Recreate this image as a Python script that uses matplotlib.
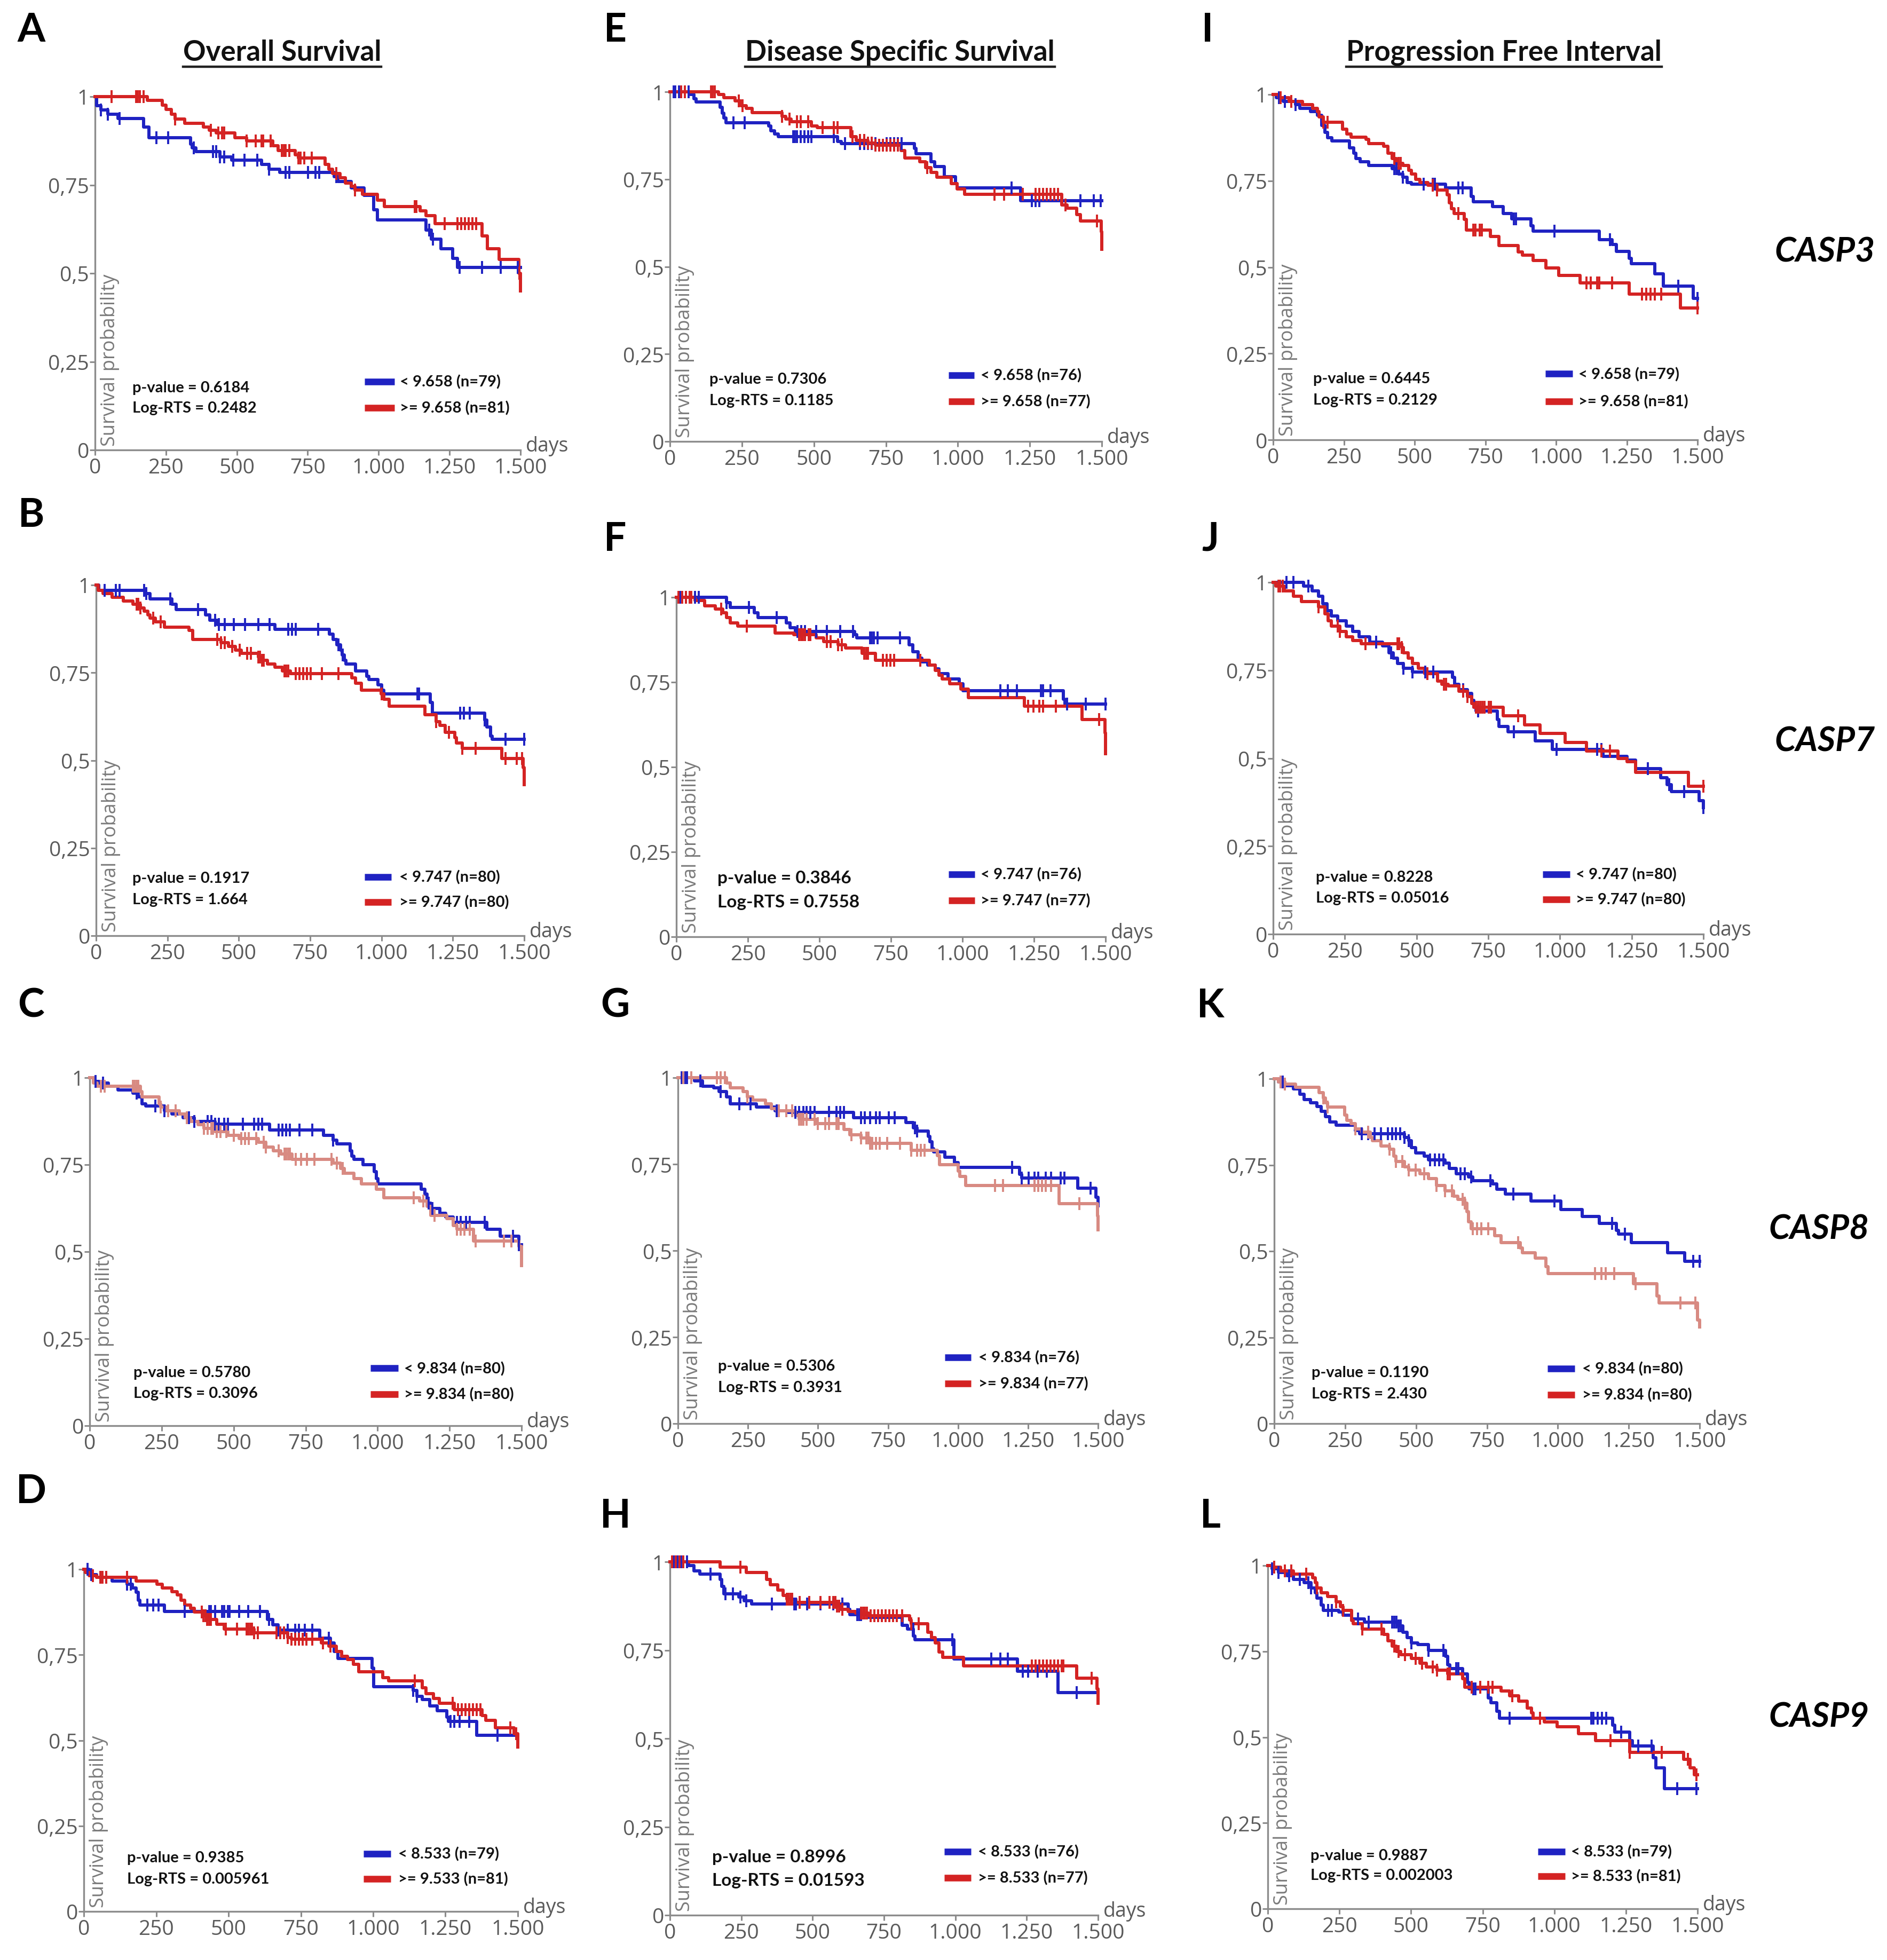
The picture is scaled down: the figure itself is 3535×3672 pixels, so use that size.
import numpy as np
import matplotlib
matplotlib.use("Agg")
import matplotlib.pyplot as plt
from matplotlib.lines import Line2D

# ------------------------------------------------------------------ data
XTICKS = [0, 250, 500, 750, 1000, 1250, 1500]
XTICK_LABELS = ["0", "250", "500", "750", "1.000", "1.250", "1.500"]
YTICKS = [0, 0.25, 0.5, 0.75, 1]
YTICK_LABELS = ["0", "0,25", "0,5", "0,75", "1"]

COL_TITLES = ["Overall Survival", "Disease Specific Survival", "Progression Free Interval"]
GENES = ["CASP3", "CASP7", "CASP8", "CASP9"]

# ---- A : CASP3 overall survival
A_blue_t = [0, 5, 20, 45, 80, 171, 191, 336, 343, 356, 441, 481, 587, 613, 652, 843, 857, 903, 949, 982, 995, 1166, 1186, 1219, 1261, 1278]
A_blue_s = [1.0, 0.975, 0.962, 0.95, 0.938, 0.914, 0.883, 0.866, 0.855, 0.844, 0.83, 0.82, 0.808, 0.795, 0.786, 0.773, 0.76, 0.742, 0.72, 0.68, 0.651, 0.623, 0.596, 0.57, 0.543, 0.517]
A_blue_c = [20, 46, 86, 217, 257, 349, 415, 428, 441, 455, 488, 527, 573, 613, 672, 686, 751, 778, 791, 850, 1179, 1192, 1285, 1364, 1430, 1490]
A_red_t = [0, 184, 237, 250, 270, 283, 316, 382, 402, 428, 494, 534, 626, 646, 705, 718, 811, 824, 837, 863, 883, 903, 916, 942, 995, 1021, 1147, 1166, 1199, 1364, 1384, 1424, 1495, 1500]
A_red_s = [1.0, 0.989, 0.976, 0.963, 0.95, 0.936, 0.925, 0.914, 0.905, 0.898, 0.883, 0.875, 0.861, 0.848, 0.835, 0.826, 0.808, 0.795, 0.782, 0.77, 0.755, 0.746, 0.736, 0.724, 0.707, 0.689, 0.676, 0.663, 0.64, 0.605, 0.57, 0.539, 0.5, 0.45]
A_red_c = [59, 145, 151, 158, 171, 283, 408, 435, 448, 455, 534, 567, 587, 593, 620, 659, 666, 672, 685, 718, 725, 738, 764, 850, 916, 1127, 1133, 1232, 1278, 1291, 1304, 1318, 1331, 1344, 1496]

# ---- E : CASP3 disease specific survival
E_blue_t = [0, 71, 84, 91, 175, 181, 188, 194, 343, 350, 363, 376, 583, 596, 849, 855, 907, 920, 953, 992, 998, 1218]
E_blue_s = [1.0, 0.992, 0.98, 0.971, 0.956, 0.939, 0.925, 0.912, 0.903, 0.889, 0.879, 0.872, 0.858, 0.852, 0.838, 0.823, 0.80, 0.787, 0.758, 0.738, 0.725, 0.689]
E_blue_c = [13, 19, 32, 39, 65, 220, 259, 428, 434, 441, 454, 467, 480, 492, 570, 609, 661, 674, 687, 700, 713, 752, 765, 778, 791, 804, 1186, 1257, 1270, 1283, 1426, 1472, 1497]
E_red_t = [0, 168, 188, 227, 246, 266, 285, 389, 402, 421, 492, 512, 628, 648, 687, 713, 803, 816, 868, 888, 907, 927, 978, 998, 1024, 1361, 1380, 1413, 1426, 1498, 1500]
E_red_s = [1.0, 0.992, 0.983, 0.974, 0.961, 0.952, 0.941, 0.93, 0.922, 0.914, 0.903, 0.897, 0.872, 0.861, 0.854, 0.847, 0.832, 0.81, 0.80, 0.783, 0.769, 0.756, 0.738, 0.722, 0.707, 0.676, 0.667, 0.649, 0.631, 0.6, 0.55]
E_red_c = [39, 52, 143, 149, 156, 240, 253, 389, 415, 441, 454, 480, 531, 570, 583, 635, 661, 674, 687, 700, 713, 726, 739, 752, 765, 778, 791, 894, 1128, 1160, 1225, 1270, 1283, 1296, 1309, 1322, 1335, 1348, 1374, 1484]

# ---- I : CASP3 progression free interval
I_blue_t = [0, 12, 35, 80, 95, 133, 156, 171, 183, 193, 208, 269, 284, 292, 307, 337, 420, 443, 458, 473, 488, 609, 700, 707, 775, 813, 843, 911, 918, 1153, 1198, 1213, 1258, 1266, 1349, 1379, 1485]
I_blue_s = [1.0, 0.99, 0.98, 0.97, 0.96, 0.95, 0.94, 0.91, 0.89, 0.875, 0.865, 0.845, 0.83, 0.815, 0.805, 0.795, 0.785, 0.77, 0.76, 0.745, 0.74, 0.73, 0.705, 0.69, 0.675, 0.655, 0.64, 0.62, 0.605, 0.58, 0.565, 0.545, 0.525, 0.51, 0.48, 0.445, 0.41]
I_blue_c = [20, 42, 80, 428, 435, 458, 533, 564, 571, 654, 669, 850, 858, 994, 1191, 1432, 1500]
I_red_t = [0, 20, 57, 103, 140, 156, 163, 178, 246, 261, 276, 329, 337, 390, 405, 420, 435, 458, 480, 488, 503, 518, 548, 579, 616, 623, 631, 639, 675, 683, 768, 798, 866, 881, 919, 964, 1009, 1085, 1258, 1440]
I_red_s = [1.0, 0.99, 0.98, 0.97, 0.96, 0.95, 0.935, 0.92, 0.90, 0.885, 0.876, 0.87, 0.858, 0.85, 0.83, 0.815, 0.80, 0.795, 0.78, 0.77, 0.755, 0.745, 0.737, 0.723, 0.71, 0.687, 0.67, 0.656, 0.638, 0.607, 0.589, 0.562, 0.544, 0.535, 0.52, 0.498, 0.476, 0.454, 0.422, 0.382]
I_red_c = [27, 65, 178, 193, 428, 443, 450, 564, 579, 654, 707, 715, 730, 737, 1107, 1122, 1145, 1153, 1198, 1304, 1319, 1334, 1349, 1372, 1500]

# ---- B : CASP7 overall survival
B_blue_t = [0, 10, 174, 188, 266, 280, 384, 398, 424, 627, 817, 830, 844, 857, 863, 870, 876, 909, 949, 955, 988, 1001, 1008, 1171, 1178, 1362, 1369, 1382, 1388]
B_blue_s = [1.0, 0.985, 0.975, 0.96, 0.945, 0.93, 0.915, 0.90, 0.887, 0.873, 0.86, 0.845, 0.83, 0.815, 0.80, 0.785, 0.775, 0.755, 0.74, 0.73, 0.715, 0.70, 0.69, 0.665, 0.635, 0.615, 0.595, 0.57, 0.56]
B_blue_c = [30, 70, 83, 168, 175, 260, 358, 417, 430, 450, 483, 522, 568, 608, 673, 686, 700, 778, 850, 864, 1126, 1132, 1276, 1289, 1309, 1362, 1434, 1500]
B_red_t = [0, 7, 24, 56, 96, 129, 155, 168, 181, 188, 207, 240, 325, 339, 437, 463, 489, 509, 568, 581, 601, 627, 653, 680, 896, 909, 929, 999, 1008, 1027, 1152, 1191, 1204, 1224, 1257, 1263, 1283, 1421, 1496, 1500]
B_red_s = [1.0, 0.985, 0.975, 0.965, 0.955, 0.945, 0.935, 0.925, 0.915, 0.905, 0.895, 0.88, 0.87, 0.845, 0.835, 0.825, 0.815, 0.805, 0.795, 0.785, 0.775, 0.765, 0.755, 0.748, 0.735, 0.72, 0.70, 0.69, 0.675, 0.655, 0.63, 0.61, 0.60, 0.58, 0.565, 0.55, 0.535, 0.505, 0.48, 0.43]
B_red_c = [142, 148, 155, 201, 227, 424, 437, 450, 476, 503, 529, 542, 568, 575, 581, 588, 660, 666, 673, 699, 712, 725, 738, 751, 791, 850, 1001, 1191, 1237, 1283, 1329, 1434, 1474, 1493]

# ---- F : CASP7 disease specific survival
F_blue_t = [0, 176, 189, 273, 286, 384, 397, 416, 624, 631, 813, 826, 846, 859, 878, 904, 917, 950, 989, 1002, 1353, 1359]
F_blue_s = [1.0, 0.985, 0.97, 0.955, 0.94, 0.925, 0.91, 0.90, 0.89, 0.88, 0.86, 0.84, 0.82, 0.81, 0.80, 0.79, 0.775, 0.76, 0.745, 0.725, 0.70, 0.685]
F_blue_c = [13, 33, 46, 65, 78, 176, 254, 351, 423, 436, 449, 488, 527, 572, 618, 677, 683, 690, 703, 781, 1132, 1158, 1190, 1275, 1281, 1307, 1366, 1431, 1500]
F_red_t = [0, 65, 98, 137, 163, 176, 189, 215, 345, 410, 488, 514, 566, 592, 650, 696, 885, 904, 917, 930, 956, 995, 1021, 1216, 1418, 1498, 1500]
F_red_s = [1.0, 0.99, 0.975, 0.965, 0.955, 0.94, 0.925, 0.915, 0.895, 0.89, 0.88, 0.87, 0.86, 0.85, 0.835, 0.815, 0.80, 0.785, 0.77, 0.76, 0.745, 0.73, 0.705, 0.68, 0.64, 0.60, 0.54]
F_red_c = [7, 20, 33, 46, 52, 156, 247, 429, 436, 442, 449, 462, 468, 527, 540, 566, 579, 657, 664, 670, 722, 735, 748, 761, 852, 1229, 1249, 1268, 1281, 1327, 1477]

# ---- J : CASP7 progression free interval
J_blue_t = [0, 107, 136, 159, 173, 188, 203, 225, 255, 277, 299, 336, 381, 403, 418, 433, 455, 485, 625, 633, 648, 677, 692, 700, 707, 781, 788, 818, 914, 974, 1151, 1233, 1263, 1351, 1374, 1389, 1485, 1500]
J_blue_s = [1.0, 0.99, 0.975, 0.96, 0.94, 0.92, 0.905, 0.89, 0.875, 0.86, 0.845, 0.83, 0.82, 0.80, 0.785, 0.77, 0.755, 0.745, 0.73, 0.71, 0.695, 0.685, 0.665, 0.645, 0.635, 0.61, 0.59, 0.575, 0.55, 0.525, 0.505, 0.495, 0.47, 0.445, 0.425, 0.405, 0.38, 0.36]
J_blue_c = [47, 70, 122, 359, 411, 455, 485, 530, 559, 662, 714, 840, 988, 1129, 1144, 1307, 1381, 1433, 1500]
J_red_t = [0, 10, 40, 70, 99, 159, 181, 191, 203, 233, 255, 277, 307, 448, 455, 470, 485, 507, 529, 574, 588, 611, 648, 677, 692, 700, 803, 877, 930, 1018, 1092, 1203, 1233, 1263, 1448]
J_red_s = [1.0, 0.99, 0.975, 0.96, 0.945, 0.93, 0.91, 0.89, 0.875, 0.86, 0.845, 0.835, 0.825, 0.815, 0.80, 0.785, 0.77, 0.755, 0.74, 0.72, 0.71, 0.705, 0.69, 0.675, 0.655, 0.645, 0.62, 0.595, 0.57, 0.545, 0.52, 0.50, 0.49, 0.46, 0.42]
J_red_c = [18, 25, 33, 159, 225, 233, 322, 433, 440, 448, 537, 596, 603, 662, 677, 707, 714, 722, 729, 737, 751, 759, 855, 1144, 1174, 1500]

# ---- C : CASP8 overall survival
C_blue_t = [0, 13, 33, 65, 98, 150, 169, 182, 195, 260, 286, 325, 364, 436, 624, 813, 846, 859, 904, 911, 917, 950, 989, 995, 1002, 1151, 1164, 1171, 1184, 1217, 1236, 1262, 1379, 1425, 1490]
C_blue_s = [1.0, 0.99, 0.985, 0.975, 0.965, 0.955, 0.945, 0.925, 0.918, 0.905, 0.895, 0.885, 0.875, 0.866, 0.85, 0.835, 0.82, 0.81, 0.79, 0.775, 0.765, 0.75, 0.73, 0.71, 0.695, 0.68, 0.665, 0.64, 0.625, 0.61, 0.60, 0.585, 0.565, 0.545, 0.52]
C_blue_c = [20, 46, 163, 228, 260, 345, 364, 410, 423, 436, 449, 468, 481, 533, 572, 585, 598, 657, 670, 683, 696, 729, 774, 846, 1177, 1190, 1275, 1288, 1307, 1320, 1372, 1470, 1490]
C_red_t = [0, 13, 26, 176, 182, 241, 247, 267, 312, 332, 351, 377, 397, 436, 481, 520, 585, 611, 637, 663, 702, 846, 872, 885, 917, 943, 995, 1021, 1145, 1171, 1184, 1240, 1262, 1275, 1334, 1490, 1500]
C_red_s = [1.0, 0.985, 0.975, 0.96, 0.945, 0.925, 0.915, 0.905, 0.895, 0.885, 0.875, 0.865, 0.855, 0.845, 0.835, 0.825, 0.815, 0.80, 0.79, 0.78, 0.765, 0.755, 0.74, 0.725, 0.71, 0.695, 0.68, 0.655, 0.645, 0.63, 0.605, 0.595, 0.575, 0.565, 0.53, 0.515, 0.46]
C_red_c = [39, 52, 150, 156, 163, 169, 247, 273, 299, 338, 397, 410, 423, 429, 442, 455, 475, 501, 527, 540, 553, 579, 605, 611, 657, 677, 683, 690, 696, 716, 735, 755, 781, 839, 859, 878, 1125, 1158, 1197, 1275, 1288, 1301, 1320, 1340, 1438, 1464]

# ---- G : CASP8 disease specific survival
G_blue_t = [0, 60, 87, 127, 147, 173, 187, 280, 347, 393, 627, 813, 840, 853, 893, 900, 907, 913, 953, 987, 1000, 1220, 1227, 1427, 1493, 1500]
G_blue_s = [1.0, 0.99, 0.975, 0.97, 0.96, 0.945, 0.925, 0.915, 0.905, 0.90, 0.885, 0.87, 0.855, 0.845, 0.83, 0.815, 0.795, 0.785, 0.77, 0.755, 0.74, 0.72, 0.71, 0.68, 0.655, 0.63]
G_blue_c = [13, 27, 33, 80, 153, 220, 260, 353, 420, 433, 447, 460, 473, 487, 540, 567, 580, 593, 653, 667, 687, 707, 720, 753, 773, 847, 853, 1193, 1227, 1253, 1273, 1287, 1313, 1333, 1367, 1380, 1473]
G_red_t = [0, 173, 187, 233, 247, 267, 313, 333, 353, 420, 433, 493, 593, 613, 653, 687, 833, 927, 933, 1000, 1007, 1027, 1360, 1498, 1500]
G_red_s = [1.0, 0.985, 0.97, 0.96, 0.945, 0.935, 0.925, 0.91, 0.905, 0.89, 0.88, 0.867, 0.85, 0.835, 0.825, 0.81, 0.79, 0.775, 0.748, 0.73, 0.715, 0.689, 0.636, 0.60, 0.56]
G_red_c = [20, 47, 140, 153, 167, 247, 360, 387, 407, 433, 440, 447, 460, 487, 500, 527, 540, 567, 573, 620, 653, 673, 680, 687, 693, 707, 720, 747, 793, 833, 853, 867, 880, 1133, 1160, 1273, 1287, 1300, 1313, 1333, 1433]

# ---- K : CASP8 progression free interval
K_blue_t = [0, 15, 38, 68, 90, 106, 128, 151, 166, 181, 196, 219, 287, 302, 460, 475, 483, 498, 528, 543, 603, 618, 641, 686, 701, 769, 784, 814, 905, 1010, 1086, 1146, 1206, 1214, 1259, 1387, 1448]
K_blue_s = [1.0, 0.99, 0.98, 0.97, 0.955, 0.94, 0.93, 0.92, 0.905, 0.89, 0.875, 0.865, 0.85, 0.84, 0.83, 0.82, 0.80, 0.785, 0.775, 0.765, 0.755, 0.74, 0.725, 0.715, 0.705, 0.695, 0.68, 0.665, 0.645, 0.62, 0.60, 0.58, 0.56, 0.55, 0.525, 0.495, 0.47]
K_blue_c = [23, 30, 309, 332, 354, 377, 400, 415, 430, 445, 460, 475, 550, 566, 581, 596, 656, 671, 694, 762, 844, 988, 1191, 1237, 1478, 1500]
K_red_t = [0, 15, 38, 75, 158, 173, 181, 188, 249, 256, 271, 287, 309, 339, 347, 377, 407, 422, 430, 460, 475, 513, 543, 573, 603, 633, 648, 671, 679, 686, 694, 777, 799, 867, 875, 920, 958, 965, 1267, 1350, 1357, 1493, 1500]
K_red_s = [1.0, 0.99, 0.985, 0.975, 0.96, 0.945, 0.93, 0.918, 0.895, 0.88, 0.87, 0.855, 0.845, 0.83, 0.82, 0.805, 0.795, 0.775, 0.76, 0.745, 0.735, 0.725, 0.71, 0.69, 0.675, 0.66, 0.65, 0.64, 0.615, 0.585, 0.565, 0.545, 0.525, 0.51, 0.495, 0.48, 0.455, 0.435, 0.405, 0.37, 0.35, 0.30, 0.28]
K_red_c = [23, 38, 173, 188, 287, 332, 407, 430, 452, 475, 498, 528, 573, 603, 626, 664, 671, 701, 716, 731, 754, 860, 1131, 1154, 1169, 1199, 1274, 1433, 1485]

# ---- D : CASP9 overall survival
D_blue_t = [0, 19, 45, 97, 149, 168, 181, 188, 194, 278, 634, 653, 672, 815, 853, 866, 879, 996, 1002, 1138, 1151, 1170, 1196, 1222, 1254, 1261, 1358]
D_blue_s = [1.0, 0.985, 0.976, 0.965, 0.956, 0.946, 0.933, 0.91, 0.896, 0.877, 0.854, 0.838, 0.822, 0.799, 0.785, 0.76, 0.739, 0.711, 0.657, 0.646, 0.628, 0.619, 0.60, 0.586, 0.568, 0.556, 0.515]
D_blue_c = [13, 26, 58, 78, 149, 162, 220, 239, 259, 349, 433, 440, 453, 478, 485, 498, 504, 537, 569, 608, 640, 672, 705, 730, 743, 763, 789, 847, 1138, 1151, 1267, 1280, 1299, 1332, 1429]
D_red_t = [0, 6, 19, 45, 181, 252, 272, 304, 323, 336, 349, 369, 381, 414, 427, 459, 485, 588, 705, 718, 821, 847, 873, 892, 912, 931, 951, 1034, 1054, 1170, 1183, 1209, 1228, 1280, 1377, 1390, 1422, 1487, 1500]
D_red_s = [1.0, 0.99, 0.981, 0.976, 0.965, 0.956, 0.946, 0.934, 0.925, 0.91, 0.896, 0.886, 0.875, 0.865, 0.854, 0.84, 0.826, 0.814, 0.80, 0.796, 0.785, 0.776, 0.76, 0.746, 0.736, 0.722, 0.70, 0.683, 0.674, 0.654, 0.637, 0.623, 0.608, 0.589, 0.573, 0.559, 0.537, 0.52, 0.48]
D_red_c = [32, 58, 65, 78, 149, 407, 414, 420, 427, 433, 440, 491, 530, 563, 569, 576, 582, 588, 601, 666, 679, 692, 705, 718, 730, 743, 756, 769, 789, 827, 853, 1144, 1274, 1293, 1306, 1319, 1332, 1345, 1358, 1370, 1474, 1494]

# ---- H : CASP9 disease specific survival
H_blue_t = [0, 65, 85, 104, 176, 182, 189, 241, 260, 286, 624, 631, 696, 813, 833, 853, 859, 995, 1217, 1360]
H_blue_s = [1.0, 0.99, 0.975, 0.965, 0.95, 0.93, 0.91, 0.90, 0.89, 0.88, 0.865, 0.85, 0.843, 0.82, 0.81, 0.79, 0.78, 0.725, 0.69, 0.63]
H_blue_c = [13, 26, 39, 59, 143, 195, 221, 247, 267, 358, 436, 442, 481, 527, 572, 605, 657, 664, 670, 852, 989, 1125, 1158, 1184, 1236, 1255, 1288, 1320, 1425]
H_red_t = [0, 176, 267, 338, 351, 377, 397, 410, 442, 585, 598, 624, 650, 696, 839, 846, 904, 917, 930, 943, 956, 1028, 1425, 1496, 1500]
H_red_s = [1.0, 0.985, 0.97, 0.95, 0.935, 0.92, 0.905, 0.895, 0.885, 0.875, 0.865, 0.86, 0.855, 0.848, 0.835, 0.825, 0.80, 0.785, 0.77, 0.745, 0.73, 0.705, 0.67, 0.64, 0.60]
H_red_c = [7, 20, 33, 46, 247, 410, 416, 423, 429, 455, 488, 527, 559, 572, 579, 585, 592, 605, 670, 677, 683, 690, 703, 716, 729, 742, 755, 768, 781, 794, 813, 846, 872, 1268, 1281, 1294, 1307, 1320, 1333, 1346, 1359, 1372, 1379, 1477]

# ---- L : CASP9 progression free interval
L_blue_t = [0, 15, 37, 67, 90, 127, 150, 165, 172, 187, 194, 247, 262, 292, 337, 456, 471, 486, 501, 524, 561, 621, 628, 636, 681, 696, 703, 770, 778, 800, 808, 1204, 1212, 1264, 1272, 1346, 1354, 1384]
L_blue_s = [1.0, 0.99, 0.98, 0.97, 0.96, 0.95, 0.935, 0.92, 0.905, 0.885, 0.87, 0.865, 0.855, 0.845, 0.835, 0.825, 0.805, 0.79, 0.775, 0.77, 0.753, 0.735, 0.71, 0.70, 0.685, 0.66, 0.64, 0.615, 0.60, 0.575, 0.555, 0.535, 0.515, 0.49, 0.475, 0.44, 0.41, 0.35]
L_blue_c = [15, 37, 75, 112, 142, 150, 210, 224, 314, 352, 434, 441, 449, 456, 464, 501, 561, 613, 658, 666, 718, 725, 845, 1129, 1137, 1152, 1167, 1182, 1234, 1294, 1339, 1429, 1496]
L_red_t = [0, 15, 45, 90, 157, 165, 172, 187, 209, 239, 254, 262, 292, 299, 329, 404, 419, 434, 449, 464, 501, 531, 553, 591, 628, 681, 688, 815, 845, 875, 905, 920, 927, 965, 1010, 1084, 1144, 1264, 1451, 1474, 1489]
L_red_s = [1.0, 0.995, 0.985, 0.975, 0.965, 0.95, 0.935, 0.92, 0.91, 0.895, 0.88, 0.87, 0.84, 0.83, 0.815, 0.80, 0.78, 0.765, 0.75, 0.74, 0.73, 0.715, 0.705, 0.695, 0.685, 0.67, 0.645, 0.635, 0.62, 0.605, 0.585, 0.57, 0.555, 0.545, 0.53, 0.51, 0.49, 0.455, 0.435, 0.41, 0.39]
L_red_c = [22, 60, 82, 135, 172, 239, 262, 329, 397, 441, 456, 479, 516, 539, 576, 591, 628, 636, 711, 741, 770, 785, 853, 950, 1197, 1264, 1376, 1466, 1496]

# statistics and legend labels
P_VALUES = {"A": "0.6184", "E": "0.7306", "I": "0.6445",
            "B": "0.1917", "F": "0.3846", "J": "0.8228",
            "C": "0.5780", "G": "0.5306", "K": "0.1190",
            "D": "0.9385", "H": "0.8996", "L": "0.9887"}
LOG_RTS = {"A": "0.2482", "E": "0.1185", "I": "0.2129",
           "B": "1.664", "F": "0.7558", "J": "0.05016",
           "C": "0.3096", "G": "0.3931", "K": "2.430",
           "D": "0.005961", "H": "0.01593", "L": "0.002003"}
LOW_LABELS = {"A": "< 9.658 (n=79)", "E": "< 9.658 (n=76)", "I": "< 9.658 (n=79)",
              "B": "< 9.747 (n=80)", "F": "< 9.747 (n=76)", "J": "< 9.747 (n=80)",
              "C": "< 9.834 (n=80)", "G": "< 9.834 (n=76)", "K": "< 9.834 (n=80)",
              "D": "< 8.533 (n=79)", "H": "< 8.533 (n=76)", "L": "< 8.533 (n=79)"}
HIGH_LABELS = {"A": ">= 9.658 (n=81)", "E": ">= 9.658 (n=77)", "I": ">= 9.658 (n=81)",
               "B": ">= 9.747 (n=80)", "F": ">= 9.747 (n=77)", "J": ">= 9.747 (n=80)",
               "C": ">= 9.834 (n=80)", "G": ">= 9.834 (n=77)", "K": ">= 9.834 (n=80)",
               "D": ">= 9.533 (n=81)", "H": ">= 8.533 (n=77)", "L": ">= 8.533 (n=81)"}

SERIES = {
    "A": (A_blue_t, A_blue_s, A_blue_c, A_red_t, A_red_s, A_red_c),
    "E": (E_blue_t, E_blue_s, E_blue_c, E_red_t, E_red_s, E_red_c),
    "I": (I_blue_t, I_blue_s, I_blue_c, I_red_t, I_red_s, I_red_c),
    "B": (B_blue_t, B_blue_s, B_blue_c, B_red_t, B_red_s, B_red_c),
    "F": (F_blue_t, F_blue_s, F_blue_c, F_red_t, F_red_s, F_red_c),
    "J": (J_blue_t, J_blue_s, J_blue_c, J_red_t, J_red_s, J_red_c),
    "C": (C_blue_t, C_blue_s, C_blue_c, C_red_t, C_red_s, C_red_c),
    "G": (G_blue_t, G_blue_s, G_blue_c, G_red_t, G_red_s, G_red_c),
    "K": (K_blue_t, K_blue_s, K_blue_c, K_red_t, K_red_s, K_red_c),
    "D": (D_blue_t, D_blue_s, D_blue_c, D_red_t, D_red_s, D_red_c),
    "H": (H_blue_t, H_blue_s, H_blue_c, H_red_t, H_red_s, H_red_c),
    "L": (L_blue_t, L_blue_s, L_blue_c, L_red_t, L_red_s, L_red_c),
}

# ------------------------------------------------------------------ layout
W, H = 3535, 3673
DPI = 100
BLUE = "#1f22c2"
RED = "#d42323"
SALMON = "#d88a82"
AXCOL = "#8c8c8c"
TXTCOL = "#5a5a5a"

# axes boxes in pixels: x(0 days), x(1500 days), y(surv=1), y(surv=0)
BOX = {"A": (178, 975, 182, 844), "E": (1255, 2064, 173, 828), "I": (2385, 3180, 178, 825),
       "B": (180, 982, 1097, 1754), "F": (1267, 2071, 1120, 1756), "J": (2385, 3191, 1092, 1751),
       "C": (168, 977, 2020, 2672), "G": (1270, 2057, 2020, 2668), "K": (2387, 3184, 2022, 2668),
       "D": (157, 970, 2941, 3582), "H": (1255, 2057, 2927, 3589), "L": (2375, 3180, 2934, 3577)}
# text placement in axes fraction: p-x, p-y, log-y, bar-x0, bar-x1, leg-x, leg-y1, leg-y2
TXT = {"A": (0.088, 0.177, 0.120, 0.633, 0.704, 0.716, 0.194, 0.120),
       "E": (0.092, 0.179, 0.118, 0.645, 0.705, 0.720, 0.189, 0.114),
       "I": (0.094, 0.177, 0.116, 0.641, 0.706, 0.720, 0.191, 0.112),
       "B": (0.085, 0.164, 0.103, 0.627, 0.690, 0.708, 0.167, 0.096),
       "F": (0.096, 0.173, 0.103, 0.634, 0.695, 0.709, 0.184, 0.107),
       "J": (0.099, 0.163, 0.103, 0.626, 0.690, 0.704, 0.170, 0.099),
       "C": (0.101, 0.154, 0.093, 0.650, 0.714, 0.728, 0.165, 0.090),
       "G": (0.095, 0.166, 0.105, 0.635, 0.697, 0.715, 0.191, 0.116),
       "K": (0.088, 0.149, 0.087, 0.642, 0.707, 0.724, 0.159, 0.083),
       "D": (0.100, 0.157, 0.095, 0.644, 0.707, 0.724, 0.168, 0.095),
       "H": (0.099, 0.166, 0.099, 0.641, 0.703, 0.720, 0.180, 0.106),
       "L": (0.099, 0.156, 0.098, 0.628, 0.692, 0.706, 0.167, 0.095)}
PSIZE = {"F": 24, "H": 24}
LETTER_POS = {"A": (0.0165, 0.9847), "E": (0.326, 0.9847), "I": (0.640, 0.9847),
              "B": (0.0165, 0.7371), "F": (0.326, 0.725), "J": (0.6415, 0.725),
              "C": (0.0165, 0.487), "G": (0.326, 0.487), "K": (0.6415, 0.487),
              "D": (0.0165, 0.2393), "H": (0.326, 0.2266), "L": (0.6415, 0.2266)}
TITLE_X = [0.1495, 0.4769, 0.797]
TITLE_Y = 0.9733
GENE_POS = [(0.967, 0.8714), (0.967, 0.6219), (0.964, 0.373), (0.964, 0.1241)]
SALMON_PANELS = {"C", "G", "K"}

plt.rcParams["font.family"] = ["Open Sans", "DejaVu Sans"]
BOLD = ["Lato", "DejaVu Sans"]

fig = plt.figure(figsize=(W / DPI, H / DPI), dpi=DPI, facecolor="white")


def extend(t, s):
    t = list(t)
    s = list(s)
    if t[-1] < 1500:
        t.append(1500)
        s.append(s[-1])
    return t, s


def value_at(t, s, c):
    idx = np.searchsorted(np.asarray(t), np.asarray(c), side="right") - 1
    return np.asarray(s)[idx]


for key, (bt, bs, bc, rt, rs, rc) in SERIES.items():
    x0, x1, y1, y0 = BOX[key]
    ax = fig.add_axes([x0 / W, 1 - y0 / H, (x1 - x0) / W, (y0 - y1) / H])
    ax.set_xlim(0, 1500)
    ax.set_ylim(0, 1)
    redcol = SALMON if key in SALMON_PANELS else RED
    for t, s, c, col in ((bt, bs, bc, BLUE), (rt, rs, rc, redcol)):
        tt, ss = extend(t, s)
        ax.step(tt, ss, where="post", color=col, lw=4.3, clip_on=False, zorder=3)
        ax.plot(c, value_at(t, s, c), ls="none", marker="|", ms=17, mew=2.8,
                color=col, clip_on=False, zorder=4)
    ax.set_xticks(XTICKS)
    ax.set_xticklabels(XTICK_LABELS)
    ax.set_yticks(YTICKS)
    ax.set_yticklabels(YTICK_LABELS)
    for sp in ("top", "right"):
        ax.spines[sp].set_visible(False)
    for sp in ("left", "bottom"):
        ax.spines[sp].set_color(AXCOL)
        ax.spines[sp].set_linewidth(2.4)
    ax.tick_params(axis="both", length=7, width=2.2, color=AXCOL,
                   labelsize=28, labelcolor=TXTCOL)
    ax.tick_params(axis="y", pad=1)
    ax.tick_params(axis="x", pad=3)
    ax.text(1.012, 0.012, "days", transform=ax.transAxes, ha="left", va="center",
            fontsize=27, color=TXTCOL)
    ax.text(0.035, 0.012, "Survival probability", transform=ax.transAxes,
            rotation=90, ha="center", va="bottom", fontsize=26, color="#7a7a7a")
    px, py, ly, bx0, bx1, lx, lgy1, lgy2 = TXT[key]
    fs = PSIZE.get(key, 21)
    ax.text(px, py, "p-value = " + P_VALUES[key], transform=ax.transAxes,
            ha="left", va="center", fontsize=fs, fontweight="bold", family=BOLD, color="#111")
    ax.text(px, ly, "Log-RTS = " + LOG_RTS[key], transform=ax.transAxes,
            ha="left", va="center", fontsize=fs, fontweight="bold", family=BOLD, color="#111")
    ax.plot([bx0, bx1], [lgy1, lgy1], transform=ax.transAxes, color=BLUE, lw=9,
            solid_capstyle="butt", clip_on=False)
    ax.plot([bx0, bx1], [lgy2, lgy2], transform=ax.transAxes, color=RED, lw=9,
            solid_capstyle="butt", clip_on=False)
    ax.text(lx, lgy1, LOW_LABELS[key], transform=ax.transAxes, ha="left", va="center",
            fontsize=21, fontweight="bold", family=BOLD, color="#111")
    ax.text(lx, lgy2, HIGH_LABELS[key], transform=ax.transAxes, ha="left", va="center",
            fontsize=21, fontweight="bold", family=BOLD, color="#111")

for key, (fx, fy) in LETTER_POS.items():
    fig.text(fx, fy, key, ha="center", va="center", fontsize=54, fontweight="bold",
             family=BOLD, color="black")

titles = []
for tx, title in zip(TITLE_X, COL_TITLES):
    titles.append(fig.text(tx, TITLE_Y, title, ha="center", va="center", fontsize=38,
                           fontweight="bold", family=BOLD, color="#111"))

for (gx, gy), gene in zip(GENE_POS, GENES):
    fig.text(gx, gy, gene, ha="center", va="center", fontsize=46, fontweight="bold",
             fontstyle="italic", family=BOLD, color="black")

fig.canvas.draw()
renderer = fig.canvas.get_renderer()
inv = fig.transFigure.inverted()
for t in titles:
    bb = t.get_window_extent(renderer).transformed(inv)
    fig.add_artist(Line2D([bb.x0, bb.x1], [0.9656, 0.9656], transform=fig.transFigure,
                          color="#222", lw=3.2))

fig.savefig("out.png", dpi=DPI, facecolor="white")
